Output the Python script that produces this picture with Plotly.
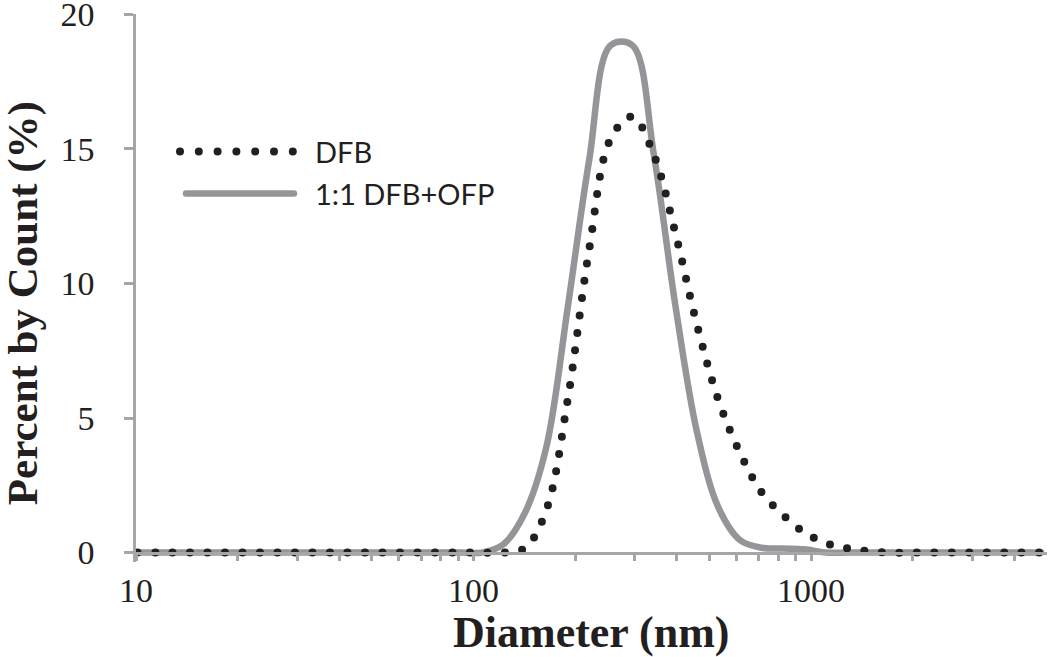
import math
import plotly.graph_objects as go

# particle size bins (nm) and percent by count
diameter = [10.1, 11.7, 13.54, 15.69, 18.17, 21.04, 24.36, 28.21, 32.67, 37.84,
            43.82, 50.75, 58.77, 68.06, 78.82, 91.28, 105.7, 122.4, 141.8, 164.2,
            190.1, 220.2, 255.0, 295.3, 342.0, 396.1, 458.7, 531.2, 615.1, 712.4,
            825.0, 955.4, 1106, 1281, 1484, 1718, 1990, 2305, 2669, 3091,
            3580, 4145, 4801]

dfb = [0, 0, 0, 0, 0, 0, 0, 0, 0, 0,
       0, 0, 0, 0, 0, 0, 0, 0, 0.16, 1.57,
       5.68, 11.28, 15.39, 16.2, 14.78, 11.88, 8.48, 5.67, 3.72, 2.25,
       1.40, 0.75, 0.35, 0.16, 0.05, 0, 0, 0, 0, 0,
       0, 0, 0]

dfb_ofp = [0, 0, 0, 0, 0, 0, 0, 0, 0, 0,
           0, 0, 0, 0, 0, 0, 0, 0.3, 1.46, 3.9,
           9.1, 14.6, 18.85, 18.85, 14.8, 9.2, 4.5, 1.68, 0.47, 0.18,
           0.15, 0.12, 0, 0, 0, 0, 0, 0, 0, 0,
           0, 0, 0]

series_names = ['DFB', '1:1 DFB+OFP']
x_ticks = [10, 100, 1000]
x_minor = [20, 30, 40, 50, 60, 70, 80, 90,
           200, 300, 400, 500, 600, 700, 800, 900,
           2000, 3000, 4000]
y_ticks = [0, 5, 10, 15, 20]

black = '#231f20'
grey_line = '#939598'
grey_axis = '#a6a6a6'
serif = 'Liberation Serif'

fig = go.Figure()

fig.add_trace(go.Scatter(x=diameter, y=dfb_ofp, mode='lines', name=series_names[1],
                         line=dict(color=grey_line, width=6.5, shape='spline'),
                         showlegend=False))
fig.add_trace(go.Scatter(x=diameter, y=dfb, mode='lines', name=series_names[0],
                         line=dict(color=black, width=8, shape='spline', dash='0px,17.5px'),
                         showlegend=False))

y_low = -0.35
y_high = 20.01
fig.update_layout(
    width=1050, height=657,
    margin=dict(l=136, r=3, t=14, b=95),
    plot_bgcolor='white', paper_bgcolor='white',
    xaxis=dict(type='log', range=[1, math.log10(5000)],
               anchor='free', position=-y_low / (y_high - y_low), automargin=False,
               showline=True, linecolor=grey_axis, linewidth=2.5,
               ticks='outside', ticklen=7, tickwidth=2.5, tickcolor=grey_axis,
               tickmode='array', tickvals=x_ticks, ticktext=[str(v) for v in x_ticks],
               tickfont=dict(family=serif, size=34, color=black),
               minor=dict(ticks='outside', ticklen=7, tickwidth=2.5, tickcolor=grey_axis,
                          tickmode='array', tickvals=x_minor, showgrid=False),
               showgrid=False, zeroline=False),
    yaxis=dict(range=[y_low, y_high], automargin=False,
               showline=True, linecolor=grey_axis, linewidth=2.5,
               ticks='outside', ticklen=9, tickwidth=2.5, tickcolor=grey_axis,
               tickmode='array', tickvals=y_ticks, ticktext=[str(v) for v in y_ticks],
               tickfont=dict(family=serif, size=34, color=black),
               ticklabelstandoff=23, ticklabeloverflow='allow',
               showgrid=False, zeroline=False),
)

# axis titles
fig.add_annotation(text='<b>Diameter (nm)</b>', xref='paper', yref='paper',
                   x=0.5, y=-0.129, xanchor='center', yanchor='middle', showarrow=False,
                   font=dict(family=serif, size=44, color=black))
fig.add_annotation(text='<b>Percent by Count (%)</b>', xref='paper', yref='paper',
                   x=-0.1245, y=0.4715, xanchor='center', yanchor='middle', showarrow=False,
                   textangle=-90, font=dict(family=serif, size=43, color=black))

# legend, drawn by hand so the samples are as long as in the original
leg_y = [0.7489, 0.6723]
fig.add_shape(type='line', xref='paper', yref='paper', x0=0.0483, x1=0.1730,
              y0=leg_y[0], y1=leg_y[0], line=dict(color=black, width=8, dash='0px,18.8px'))
fig.add_shape(type='line', xref='paper', yref='paper', x0=0.0549, x1=0.1734,
              y0=leg_y[1], y1=leg_y[1], line=dict(color=grey_line, width=6.5))
for name, yy in zip(series_names, leg_y):
    fig.add_annotation(text=name, xref='paper', yref='paper', x=0.1943, y=yy,
                       xanchor='left', yanchor='middle', showarrow=False,
                       font=dict(family='Lato', size=29, color=black))

# no page margin; round caps turn the zero-length dashes into dots
js = """
document.body.style.margin = '0';
var gd = document.getElementById('{plot_id}');
gd.querySelectorAll('.scatterlayer path.js-line, .shapelayer path').forEach(function(p) {
    p.style.strokeLinecap = 'round';
    p.style.strokeLinejoin = 'round';
});
"""

fig.write_html("out.html", config={'displayModeBar': False}, post_script=js)
